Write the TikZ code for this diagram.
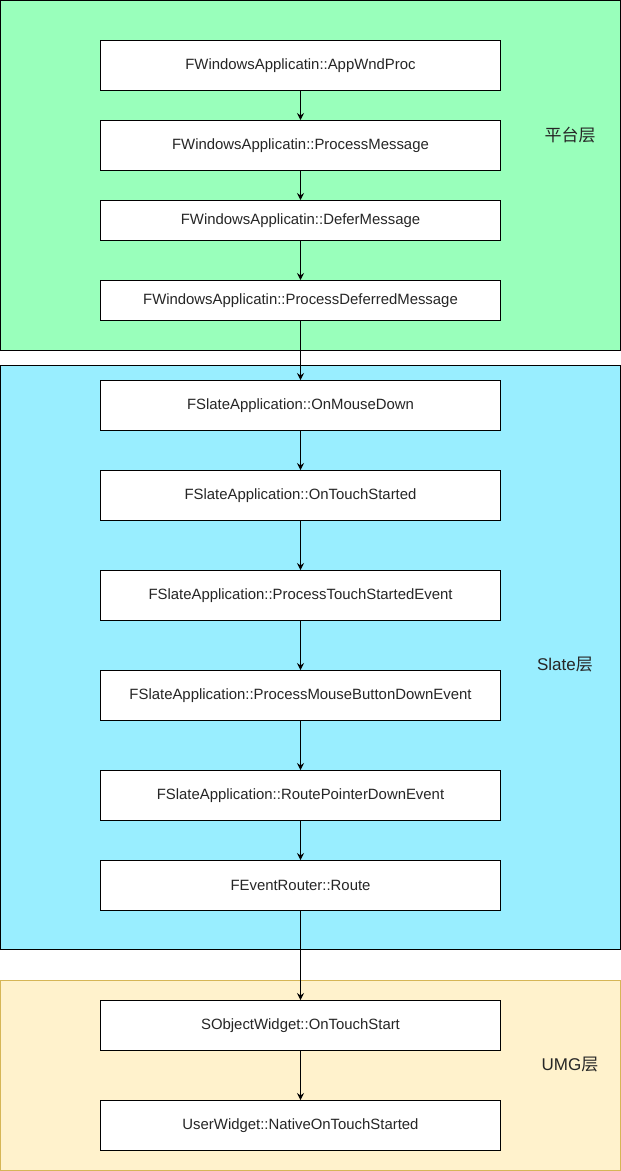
\documentclass[tikz,border=0pt]{standalone}
\usepackage{fontspec}
\setmainfont{Liberation Sans}
\newfontfamily\cjk{Noto Sans CJK SC}
\usetikzlibrary{arrows.meta}
\definecolor{plat}{HTML}{99FFBB}
\definecolor{slate}{HTML}{99EEFF}
\definecolor{umg}{HTML}{FFF2CC}
\definecolor{umgline}{HTML}{D6B656}
\begin{document}
\begin{tikzpicture}[x=1pt,y=-1pt,
  fn/.style={draw=black,fill=white,line width=1pt,minimum width=400pt,inner sep=0pt,font=\fontsize{14.9}{17}\selectfont,text=black!85},
  link/.style={-{Stealth[length=7pt,width=7pt,inset=2.5pt]},line width=1pt},
  tag/.style={font=\fontsize{17}{20}\selectfont,text=black!85}]
\useasboundingbox (0,0) rectangle (621,1171);
\fill[plat,draw=black,line width=1pt] (0.5,0.5) rectangle (620.5,350.5);
\fill[slate,draw=black,line width=1pt] (0.5,365.5) rectangle (620.5,949.5);
\fill[umg,draw=umgline,line width=1pt] (0.5,980.5) rectangle (620.5,1170.5);
\node[fn,minimum height=50pt] (a1) at (300.5,65.5) {FWindowsApplicatin::AppWndProc};
\node[fn,minimum height=50pt] (a2) at (300.5,145.5) {FWindowsApplicatin::ProcessMessage};
\node[fn,minimum height=40pt] (a3) at (300.5,220.5) {FWindowsApplicatin::DeferMessage};
\node[fn,minimum height=40pt] (a4) at (300.5,300.5) {FWindowsApplicatin::ProcessDeferredMessage};
\node[fn,minimum height=50pt] (b1) at (300.5,405.5) {FSlateApplication::OnMouseDown};
\node[fn,minimum height=50pt] (b2) at (300.5,495.5) {FSlateApplication::OnTouchStarted};
\node[fn,minimum height=50pt] (b3) at (300.5,595.5) {FSlateApplication::ProcessTouchStartedEvent};
\node[fn,minimum height=50pt] (b4) at (300.5,695.5) {FSlateApplication::ProcessMouseButtonDownEvent};
\node[fn,minimum height=50pt] (b5) at (300.5,795.5) {FSlateApplication::RoutePointerDownEvent};
\node[fn,minimum height=50pt] (b6) at (300.5,885.5) {FEventRouter::Route};
\node[fn,minimum height=50pt] (c1) at (300.5,1025.5) {SObjectWidget::OnTouchStart};
\node[fn,minimum height=50pt] (c2) at (300.5,1125.5) {UserWidget::NativeOnTouchStarted};
\node[tag] (t1) at (570,135) {\cjk 平台层};
\node[tag] (t2) at (565,665) {Slate{\cjk 层}};
\node[tag] (t3) at (570,1065) {UMG{\cjk 层}};
\foreach \u/\v in {a1/a2,a2/a3,a3/a4,a4/b1,b1/b2,b2/b3,b3/b4,b4/b5,b5/b6,b6/c1,c1/c2}
  \draw[link] (\u.south) -- (\v.north);
\end{tikzpicture}
\end{document}
